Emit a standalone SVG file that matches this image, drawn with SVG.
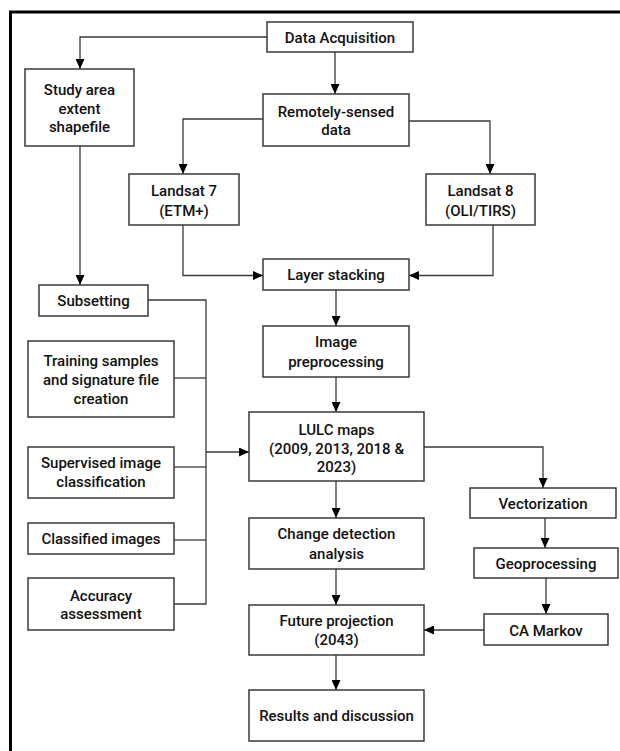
<svg xmlns="http://www.w3.org/2000/svg" width="620" height="751" viewBox="0 0 620 751">
<defs>
<marker id="ah" markerUnits="userSpaceOnUse" markerWidth="10" markerHeight="9" refX="10" refY="4.5" orient="auto">
<path d="M0,0 L10,4.5 L0,9 z" fill="#000"/>
</marker>
<style>
.box{fill:#fff;stroke:#3a3a3a;stroke-width:1.5}
.ln{fill:none;stroke:#3a3a3a;stroke-width:1.3}
.ar{fill:none;stroke:#3a3a3a;stroke-width:1.3;marker-end:url(#ah)}
text{font-family:Roboto,"Liberation Sans",sans-serif;font-size:15px;font-weight:500;fill:#111;text-anchor:middle}
</style>
</defs>
<rect width="620" height="751" fill="#fff"/>
<path d="M10.5,751 V12 H620" fill="none" stroke="#000" stroke-width="3"/>
<g id="connectors">
<path class="ar" d="M267,37 H80 V69"/>
<path class="ar" d="M335,52 V94"/>
<path class="ar" d="M263,119 H183 V174"/>
<path class="ar" d="M409,121 H490 V174"/>
<path class="ar" d="M183,225 V275.5 H263"/>
<path class="ar" d="M493,225 V275.5 H409"/>
<path class="ar" d="M80,146 V285"/>
<path class="ar" d="M336,290 V326"/>
<path class="ar" d="M336,377 V412"/>
<path class="ln" d="M148,300 H206 V604 H174"/>
<path class="ln" d="M174,378 H206"/>
<path class="ln" d="M174,467 H206"/>
<path class="ln" d="M174,540 H206"/>
<path class="ar" d="M206,452 H249"/>
<path class="ar" d="M424,447 H543 V488"/>
<path class="ar" d="M336,481 V518"/>
<path class="ar" d="M545,518 V548"/>
<path class="ar" d="M546,578 V614"/>
<path class="ar" d="M336,569 V605"/>
<path class="ar" d="M484,630 H424"/>
<path class="ar" d="M336,655 V690"/>
</g>
<g id="data-acquisition"><rect class="box" x="267" y="22" width="146" height="30"/><text x="340" y="42.5">Data Acquisition</text></g>
<g id="study-area"><rect class="box" x="25" y="69" width="109" height="77"/><text x="79.5" y="94.5">Study area</text><text x="79.5" y="113.5">extent</text><text x="79.5" y="131.5">shapefile</text></g>
<g id="remotely-sensed"><rect class="box" x="263" y="94" width="146" height="52"/><text x="336" y="116.5">Remotely-sensed</text><text x="336" y="134.5">data</text></g>
<g id="landsat7"><rect class="box" x="129" y="174" width="110" height="51"/><text x="184" y="195.5">Landsat 7</text><text x="184" y="215.5">(ETM+)</text></g>
<g id="landsat8"><rect class="box" x="426" y="174" width="109" height="51"/><text x="480.5" y="195.5">Landsat 8</text><text x="480.5" y="215.5">(OLI/TIRS)</text></g>
<g id="layer-stacking"><rect class="box" x="263" y="259" width="146" height="31"/><text x="336" y="280">Layer stacking</text></g>
<g id="subsetting"><rect class="box" x="39" y="285" width="109" height="31"/><text x="93.5" y="305.5">Subsetting</text></g>
<g id="image-preprocessing"><rect class="box" x="263" y="326" width="146" height="51"/><text x="336" y="346.5">Image</text><text x="336" y="366.5">preprocessing</text></g>
<g id="training"><rect class="box" x="28" y="341" width="146" height="76"/><text x="101" y="365.5">Training samples</text><text x="101" y="384.5">and signature file</text><text x="101" y="403.5">creation</text></g>
<g id="lulc-maps"><rect class="box" x="249" y="412" width="175" height="69"/><text x="336.5" y="434.5">LULC maps</text><text x="336.5" y="453.5">(2009, 2013, 2018 &amp;</text><text x="336.5" y="471.5">2023)</text></g>
<g id="supervised"><rect class="box" x="28" y="447" width="146" height="51"/><text x="101" y="467.5">Supervised image</text><text x="101" y="486.5">classification</text></g>
<g id="vectorization"><rect class="box" x="470" y="488" width="146" height="30"/><text x="543" y="508.5">Vectorization</text></g>
<g id="classified-images"><rect class="box" x="28" y="523" width="146" height="31"/><text x="101" y="543.5">Classified images</text></g>
<g id="change-detection"><rect class="box" x="249" y="518" width="175" height="51"/><text x="336.5" y="538.5">Change detection</text><text x="336.5" y="558.5">analysis</text></g>
<g id="geoprocessing"><rect class="box" x="474" y="548" width="144" height="30"/><text x="546" y="568.5">Geoprocessing</text></g>
<g id="accuracy"><rect class="box" x="28" y="578" width="146" height="52"/><text x="101" y="600.5">Accuracy</text><text x="101" y="618.5">assessment</text></g>
<g id="future-projection"><rect class="box" x="249" y="605" width="175" height="50"/><text x="336.5" y="625.5">Future projection</text><text x="336.5" y="644.5">(2043)</text></g>
<g id="ca-markov"><rect class="box" x="484" y="614" width="124" height="31"/><text x="546" y="635.5">CA Markov</text></g>
<g id="results"><rect class="box" x="249" y="690" width="175" height="51"/><text x="336.5" y="720.5">Results and discussion</text></g>
</svg>
